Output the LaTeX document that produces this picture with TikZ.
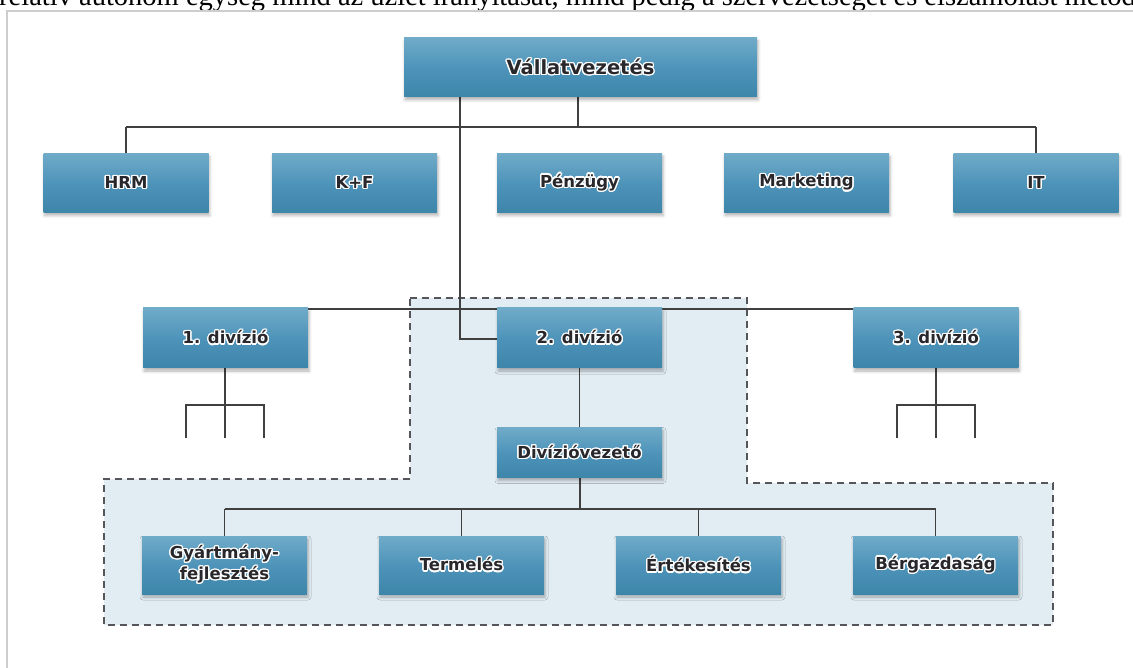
\documentclass[tikz,border=0pt]{standalone}
\usepackage{fontspec}
\setmainfont{Liberation Serif}
\newfontfamily\boxfont{DejaVu Sans}
\usepackage[copies]{contour}
\contourlength{1.3pt}
\usetikzlibrary{shadows.blur}

\definecolor{boxtop}{RGB}{112,171,200}
\definecolor{boxmid}{RGB}{78,148,186}
\definecolor{boxbot}{RGB}{62,133,170}
\definecolor{boxtext}{RGB}{40,40,44}
\definecolor{wire}{RGB}{64,64,64}
\definecolor{zonefill}{RGB}{226,237,243}
\definecolor{zoneedge}{RGB}{85,85,90}
\definecolor{framegray}{RGB}{205,205,205}

% dark label with a white halo
\newcommand{\lbl}[1]{\contour{white}{#1}}

\tikzset{
  unit/.style={rectangle, draw=none,
    top color=boxtop, bottom color=boxbot, middle color=boxmid,
    minimum width=165pt, minimum height=59pt, inner sep=0pt,
    text=boxtext, align=center,
    font=\boxfont\bfseries\fontsize{16.5}{21}\selectfont,
    blur shadow={shadow xshift=1pt, shadow yshift=-3pt,
      shadow blur radius=3pt, shadow opacity=30}},
  wireline/.style={draw=wire, line width=1.3pt},
  zone/.style={fill=zonefill, draw=zoneedge, line width=1.3pt,
    dash pattern=on 7pt off 5pt},
}

\begin{document}
\begin{tikzpicture}[x=1pt,y=-1pt]
\useasboundingbox (0,0) rectangle (1133,668);

% running text above the chart
\node[anchor=base west, inner sep=0pt, font=\fontsize{28.5}{32}\selectfont] (caption) at (-1,6)
  {relatív autonóm egység mind az üzlet irányítását, mind pedig a szervezetséget és elszámolást metódusát};

% page frame
\draw[framegray, line width=1.5pt] (7,668) -- (7,11) -- (1133,11);

% shaded zone of the second division
\draw[zone] (410,298) -- (747,298) -- (747,483) -- (1053,483) -- (1053,625)
  -- (104,625) -- (104,479) -- (410,479) -- cycle;

% coordinates for the bus lines
\coordinate (busTopL) at (126,127);
\coordinate (busTopR) at (1036,127);
\coordinate (busTopM) at (578,127);
\coordinate (trunk) at (460,97);

% connectors (drawn before the boxes)
\draw[wireline] (busTopL) -- (busTopR);
\draw[wireline] (busTopM) -- (578,97);
\draw[wireline] (busTopL) -- (126,154);
\draw[wireline] (busTopR) -- (1036,154);
\draw[wireline] (trunk) |- (497,339);
\draw[wireline] (307,309) -- (854,309);

% sub-branches of divisions 1 and 3
\foreach \cx/\nm in {225/a, 936/c}{
  \coordinate (\nm top) at (\cx,368);
  \coordinate (\nm L) at (\cx-39,405);
  \coordinate (\nm R) at (\cx+39,405);
  \coordinate (\nm endL) at (\cx-39,438);
  \coordinate (\nm endM) at (\cx,438);
  \coordinate (\nm endR) at (\cx+39,438);
  \draw[wireline] (\nm top) -- (\nm endM);
  \draw[wireline] (\nm endL) -- (\nm L) -- (\nm R) -- (\nm endR);
}

% second division chain
\draw[wireline] (579.5,368) -- (579.5,428);
\draw[wireline] (580,477) -- (580,509);
\draw[wireline] (224.5,509) -- (935.5,509);
\foreach \cx in {224.5,461.5,698.5,935.5}
  \draw[wireline] (\cx,509) -- (\cx,536);

% boxes
\node[unit, minimum width=353pt] (top) at (580.5,67.5) {\fontsize{19.5}{22}\selectfont\lbl{Vállatvezetés}};

\node[unit] (hrm) at (126,183) {\lbl{HRM}};
\node[unit] (kf) at (354.5,183) {\lbl{K+F}};
\node[unit] (penz) at (579.5,183) {\lbl{Pénzügy}};
\node[unit] (mark) at (806.5,183) {\lbl{Marketing}};
\node[unit] (it) at (1036,183) {\lbl{IT}};

\node[unit, minimum height=60pt] (div1) at (225.5,338) {\lbl{1. divízió}};
\node[unit, minimum height=60pt] (div2) at (579.5,338) {\lbl{2. divízió}};
\node[unit, minimum height=60pt] (div3) at (936,338) {\lbl{3. divízió}};

\node[unit, minimum height=50pt] (dv) at (579.5,452.5) {\lbl{Divízióvezető}};

\node[unit, minimum height=58pt] (gyart) at (224.5,565) {\lbl{Gyártmány-}\\\lbl{fejlesztés}};
\node[unit, minimum height=58pt] (term) at (461.5,565) {\lbl{Termelés}};
\node[unit, minimum height=58pt] (ert) at (698.5,565) {\lbl{Értékesítés}};
\node[unit, minimum height=58pt] (berg) at (935.5,565) {\lbl{Bérgazdaság}};
\end{tikzpicture}
\end{document}
